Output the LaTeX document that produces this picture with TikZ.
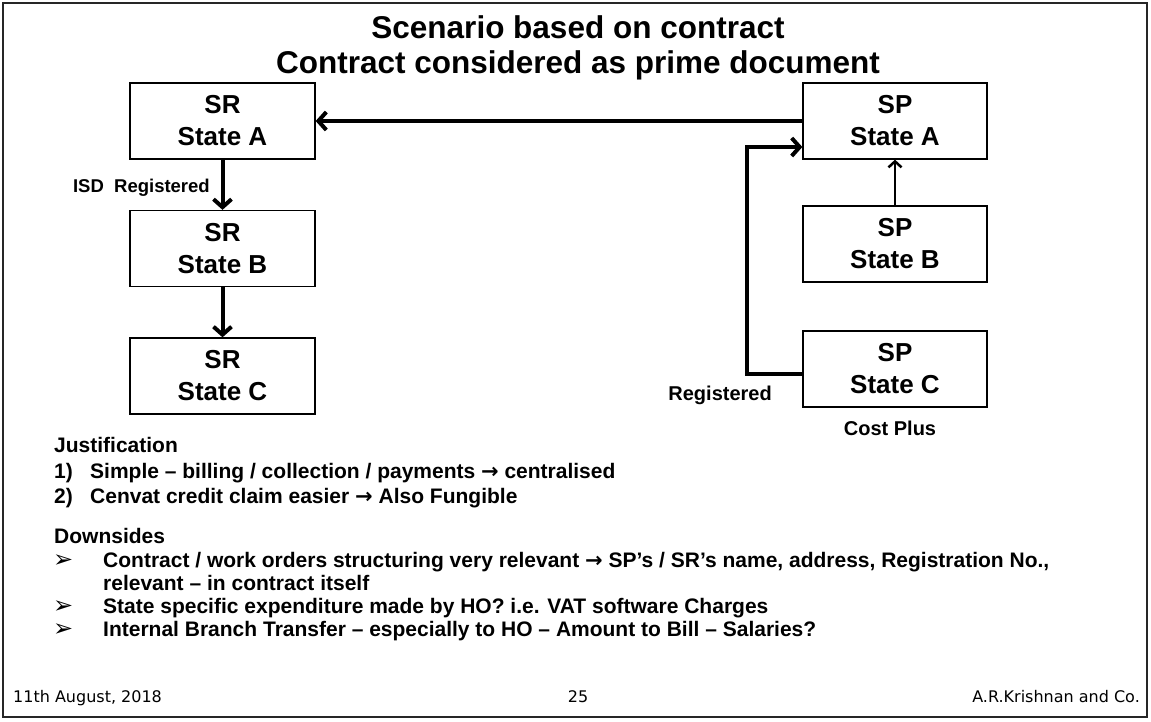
\documentclass[tikz,border=0pt]{standalone}
\usepackage{fontspec}
\setmainfont{Liberation Sans}
\newfontfamily\dejavu{DejaVu Sans}
\usetikzlibrary{arrows.meta}
\newcommand{\rarr}{{\dejavu\bfseries →}}
\tikzset{
  box/.style={draw, line width=1.3pt, rectangle, minimum width=185pt, minimum height=76pt,
    align=center, inner sep=0pt, font=\fontsize{26}{32}\selectfont\bfseries},
  thickconn/.style={line width=4pt, -{Straight Barb[length=8pt,width=18pt]}},
  thinconn/.style={line width=2.5pt, -{Straight Barb[length=6pt,width=13pt]}},
  ttl/.style={anchor=base, inner sep=0pt, font=\fontsize{31.5}{35}\selectfont\bfseries},
  lbl/.style={inner sep=0pt, font=\fontsize{20}{24}\selectfont\bfseries},
  body/.style={anchor=base west, inner sep=0pt, font=\fontsize{21}{25}\selectfont\bfseries},
  bul/.style={anchor=base west, inner sep=0pt, font=\fontsize{24}{26}\selectfont\dejavu},
  foot/.style={inner sep=0pt, font=\fontsize{16}{20}\selectfont\dejavu}
}
\begin{document}
\begin{tikzpicture}[x=1pt, y=-1pt]
\useasboundingbox (0,0) rectangle (1151,721);
\fill[white] (0,0) rectangle (1151,721);
\draw[line width=1.5pt, black!85] (3,3) rectangle (1147,717);

% title
\node[ttl] (t1) at (578,38) {Scenario based on contract};
\node[ttl] (t2) at (578,73) {Contract considered as prime document};

% SR boxes
\node[box] (sra) at (222.5,121) {SR\\State A};
\node[box] (srb) at (222.5,248.5) {SR\\State B};
\node[box] (src) at (222.5,376) {SR\\State C};

% SP boxes
\node[box, minimum width=184pt] (spa) at (895,121) {SP\\State A};
\node[box, minimum width=184pt] (spb) at (895,244) {SP\\State B};
\node[box, minimum width=184pt] (spc) at (895,369) {SP\\State C};

% connectors
\draw[thickconn] (spa.west) -- (sra.east);
\draw[thickconn] (sra.south) -- (srb.north);
\draw[thickconn] (srb.south) -- (src.north);
\draw[thinconn] (spb.north) -- (spa.south);
\coordinate (r1) at (747,374);
\coordinate (r2) at (747,147);
\draw[thickconn] ([yshift=-5pt]spc.west) -- (r1) -- (r2) -- ([yshift=-26pt]spa.west);

% labels
\node[lbl, anchor=base east, font=\fontsize{18.5}{22}\selectfont\bfseries] (isd) at (210,192) {ISD\ \ Registered};
\node[lbl, anchor=base east] (reg) at (772,400) {Registered};
\node[lbl, anchor=base] (cp) at (890,435) {Cost Plus};

% body text
\node[body] (jus) at (54,452) {Justification};
\node[body] (n1) at (54,478) {1)};
\node[body] (j1) at (90,478) {Simple – billing / collection / payments \rarr{} centralised};
\node[body] (n2) at (54,503) {2)};
\node[body] (j2) at (90,503) {Cenvat credit claim easier \rarr{} Also Fungible};
\node[body] (dwn) at (54,543) {Downsides};
\node[bul] (b1) at (53,567) {➢};
\node[body] (d1) at (103,567) {Contract / work orders structuring very relevant \rarr{} SP’s / SR’s name, address, Registration No.,};
\node[body] (d1b) at (103,590) {relevant – in contract itself};
\node[bul] (b2) at (53,613) {➢};
\node[body] (d2) at (103,613) {State specific expenditure made by HO? i.e. VAT software Charges};
\node[bul] (b3) at (53,636) {➢};
\node[body] (d3) at (103,636) {Internal Branch Transfer – especially to HO – Amount to Bill – Salaries?};

% footer
\node[foot, anchor=base west] (f1) at (13,702) {11th August, 2018};
\node[foot, anchor=base] (f2) at (578,702) {25};
\node[foot, anchor=base east] (f3) at (1140,702) {A.R.Krishnan and Co.};
\end{tikzpicture}
\end{document}
